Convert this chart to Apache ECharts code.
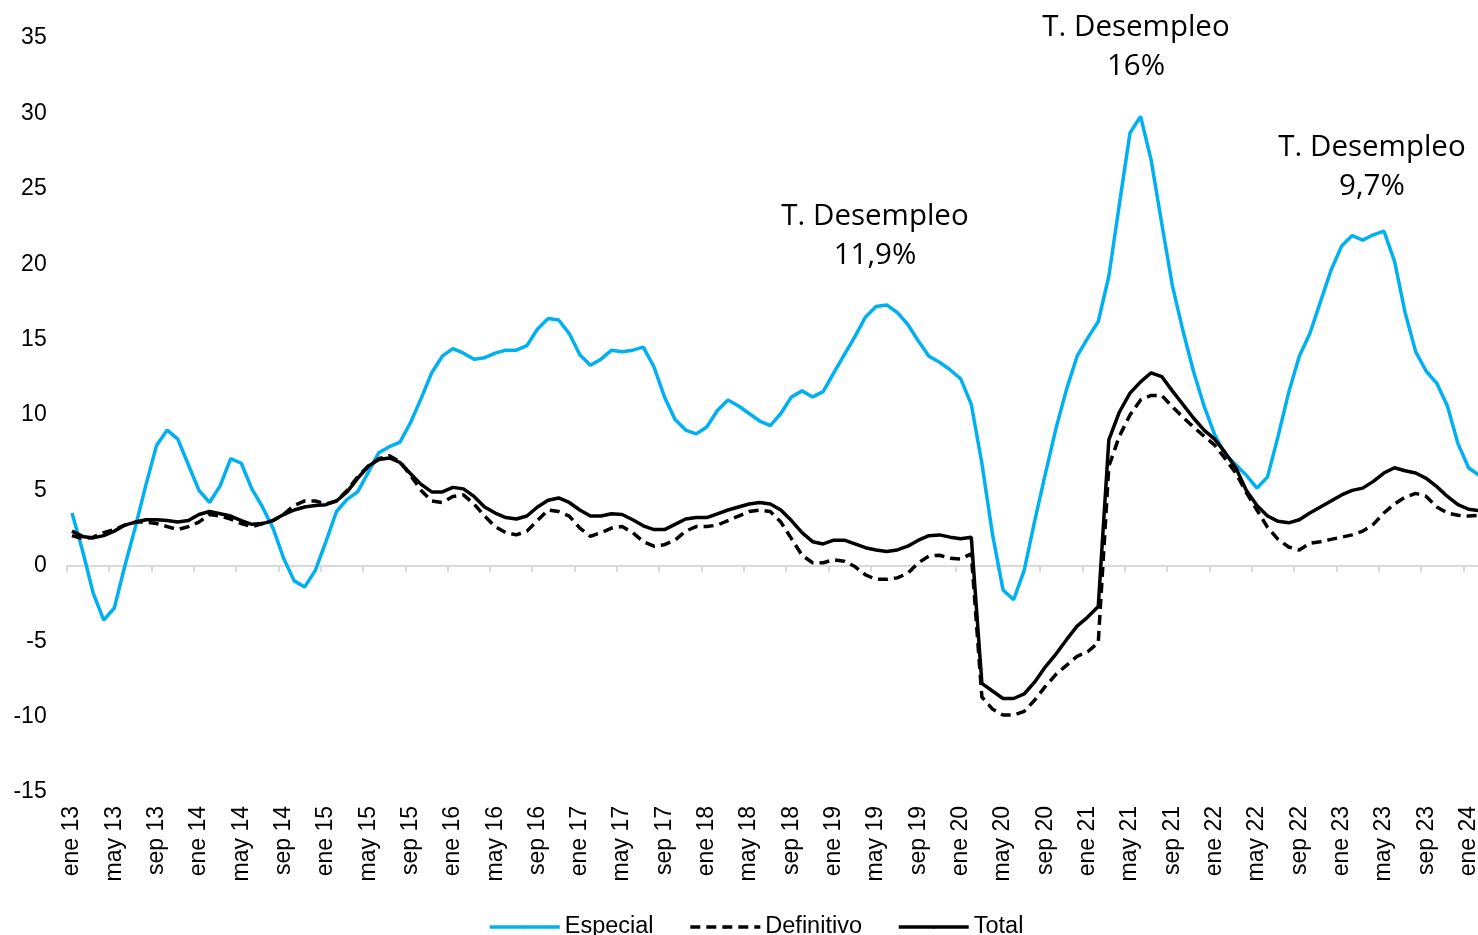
<!DOCTYPE html>
<html>
<head>
<meta charset="utf-8">
<title>Especial / Definitivo / Total</title>
<script type="text/javascript" src="https://cdn.jsdelivr.net/npm/echarts@6/dist/echarts.min.js"></script>
<style>
	html, body { margin: 0; padding: 0; background: #fff; }
	#main { width: 1478px; height: 935px; }
</style>
</head>
<body>
<div id="main"></div>
<script type="text/javascript">
	// meses ene 13 .. feb 24 (feb 24 queda cortado en el borde derecho)
	var mesNombres = ['ene', 'feb', 'mar', 'abr', 'may', 'jun', 'jul', 'ago', 'sep', 'oct', 'nov', 'dic'];
	var anios = ['13', '14', '15', '16', '17', '18', '19', '20', '21', '22', '23', '24'];

	var especial = [
		3.5, 1.0, -1.8, -3.6, -2.8, 0.0, 2.6, 5.4, 8.0, 9.0, 8.4, 6.7,
		5.0, 4.2, 5.3, 7.1, 6.8, 5.1, 3.9, 2.5, 0.5, -1.0, -1.4, -0.3,
		1.6, 3.6, 4.4, 4.9, 6.2, 7.5, 7.9, 8.2, 9.5, 11.1, 12.8, 13.9,
		14.4, 14.1, 13.7, 13.8, 14.1, 14.3, 14.3, 14.6, 15.7, 16.4, 16.3, 15.4,
		14.0, 13.3, 13.7, 14.3, 14.2, 14.3, 14.5, 13.2, 11.2, 9.7, 9.0, 8.75,
		9.2, 10.3, 11.0, 10.6, 10.1, 9.6, 9.3, 10.1, 11.2, 11.6, 11.2, 11.55,
		12.8, 14.0, 15.2, 16.5, 17.2, 17.3, 16.8, 16.0, 14.9, 13.9, 13.5, 13.0,
		12.4, 10.7, 6.8, 2.1, -1.6, -2.25, -0.3, 3.0, 6.1, 9.1, 11.7, 13.9,
		15.1, 16.2, 19.2, 24.0, 28.7, 29.8, 26.9, 22.7, 18.6, 15.6, 12.9, 10.6,
		8.7, 7.4, 6.7, 6.0, 5.15, 5.9, 8.6, 11.5, 13.9, 15.4, 17.5, 19.6,
		21.2, 21.9, 21.6, 21.95, 22.2, 20.2, 16.8, 14.2, 12.9, 12.1, 10.6, 8.1,
		6.5, 6.0
	];

	var definitivo = [
		2.0, 1.8, 1.9, 2.2, 2.4, 2.7, 2.9, 2.9, 2.8, 2.6, 2.4, 2.6,
		2.9, 3.4, 3.3, 3.1, 2.8, 2.6, 2.8, 3.0, 3.4, 4.0, 4.3, 4.3,
		4.1, 4.3, 5.0, 5.9, 6.6, 7.1, 7.3, 6.9, 6.0, 5.0, 4.3, 4.2,
		4.6, 4.7, 4.1, 3.3, 2.6, 2.2, 2.05, 2.3, 3.0, 3.7, 3.6, 3.3,
		2.5, 1.95, 2.2, 2.5, 2.6, 2.2, 1.6, 1.3, 1.4, 1.7, 2.3, 2.6,
		2.6, 2.7, 3.0, 3.3, 3.6, 3.7, 3.6, 2.9, 1.8, 0.7, 0.2, 0.2,
		0.4, 0.3, -0.05, -0.6, -0.9, -0.9, -0.8, -0.5, 0.2, 0.65, 0.7, 0.5,
		0.45, 0.8, -8.7, -9.5, -9.9, -9.9, -9.65, -8.9, -8.0, -7.2, -6.6, -6.0,
		-5.7, -5.1, 6.6, 8.6, 10.0, 11.0, 11.3, 11.3, 10.55, 9.85, 9.2, 8.6,
		8.0, 7.1, 6.15, 4.85, 3.7, 2.55, 1.75, 1.25, 1.05, 1.5, 1.6, 1.75,
		1.9, 2.05, 2.3, 2.75, 3.5, 4.1, 4.55, 4.8, 4.6, 3.9, 3.5, 3.35,
		3.3, 3.35
	];

	var total = [
		2.3, 1.95, 1.85, 2.0, 2.3, 2.7, 2.9, 3.05, 3.05, 3.0, 2.9, 3.0,
		3.4, 3.6, 3.45, 3.3, 3.0, 2.75, 2.8, 3.0, 3.4, 3.7, 3.9, 4.0,
		4.05, 4.3, 4.9, 5.8, 6.6, 7.05, 7.15, 6.85, 6.1, 5.4, 4.9, 4.9,
		5.2, 5.1, 4.6, 3.9, 3.5, 3.2, 3.1, 3.3, 3.9, 4.35, 4.5, 4.2,
		3.7, 3.3, 3.3, 3.45, 3.4, 3.05, 2.65, 2.4, 2.4, 2.75, 3.1, 3.2,
		3.2, 3.45, 3.7, 3.9, 4.1, 4.2, 4.1, 3.7, 3.0, 2.2, 1.6, 1.45,
		1.7, 1.7, 1.45, 1.2, 1.05, 0.95, 1.05, 1.3, 1.7, 2.0, 2.05, 1.9,
		1.8, 1.9, -7.8, -8.3, -8.8, -8.8, -8.5, -7.7, -6.7, -5.85, -4.9, -4.0,
		-3.4, -2.7, 8.35, 10.2, 11.45, 12.2, 12.8, 12.55, 11.6, 10.7, 9.8, 9.0,
		8.4, 7.5, 6.5, 5.0, 4.0, 3.3, 2.95, 2.85, 3.05, 3.5, 3.9, 4.3,
		4.7, 5.0, 5.15, 5.6, 6.15, 6.5, 6.3, 6.15, 5.8, 5.25, 4.6, 4.05,
		3.75, 3.65
	];

	var yTicks = [-15, -10, -5, 0, 5, 10, 15, 20, 25, 30, 35];

	var anotaciones = [
		{ texto: 'T. Desempleo\n11,9%', x: 875, y: 236 },
		{ texto: 'T. Desempleo\n16%', x: 1136, y: 47 },
		{ texto: 'T. Desempleo\n9,7%', x: 1372, y: 167 }
	];

	var meses = [];
	for (var i = 0; i < especial.length; i++) {
		meses.push(mesNombres[i % 12] + ' ' + anios[Math.floor(i / 12)]);
	}

	var fuente = "'Liberation Sans', Arial, sans-serif";
	var myChart = echarts.init(document.getElementById('main'));

	var option = {
		animation: false,
		backgroundColor: '#fff',
		grid: {
			left: 66.7,
			width: meses.length * 10.58,
			top: 38,
			bottom: 143,
			containLabel: false,
			outerBoundsMode: 'none'
		},
		legend: {
			data: ['Especial', 'Definitivo', 'Total'],
			left: 483,
			top: 909,
			itemWidth: 70,
			itemHeight: 4,
			itemGap: 35,
			lineStyle: { width: 3.5 },
			textStyle: { fontFamily: fuente, fontSize: 23.5, color: '#000', lineHeight: 26 }
		},
		xAxis: [
			{
				type: 'category',
				data: meses,
				position: 'bottom',
				boundaryGap: true,
				axisLine: { show: false, onZero: false },
				axisTick: { show: false },
				splitLine: { show: false },
				axisLabel: {
					interval: 3,
					rotate: 90,
					margin: 14,
					fontFamily: fuente,
					fontSize: 23,
					color: '#000'
				}
			},
			{
				type: 'category',
				data: meses,
				position: 'bottom',
				boundaryGap: true,
				axisLine: { show: true, onZero: true, lineStyle: { color: '#d9d9d9', width: 2 } },
				axisTick: { show: true, interval: 3, length: 6, lineStyle: { color: '#d9d9d9', width: 2 } },
				axisLabel: { show: false },
				splitLine: { show: false }
			}
		],
		yAxis: {
			type: 'value',
			min: yTicks[0],
			max: yTicks[yTicks.length - 1],
			interval: 5,
			axisLine: { show: false },
			axisTick: { show: false },
			splitLine: { show: false },
			axisLabel: { margin: 20, fontFamily: fuente, fontSize: 23, color: '#000' }
		},
		series: [
			{
				name: 'Especial',
				type: 'line',
				xAxisIndex: 0,
				data: especial,
				symbol: 'none',
				itemStyle: { color: '#00B0F0' },
				lineStyle: { color: '#00B0F0', width: 3.5 }
			},
			{
				name: 'Definitivo',
				type: 'line',
				xAxisIndex: 0,
				data: definitivo,
				symbol: 'none',
				itemStyle: { color: '#000' },
				lineStyle: { color: '#000', width: 3.5, type: [10, 6] }
			},
			{
				name: 'Total',
				type: 'line',
				xAxisIndex: 0,
				data: total,
				symbol: 'none',
				itemStyle: { color: '#000' },
				lineStyle: { color: '#000', width: 3.5 }
			}
		],
		graphic: anotaciones.map(function (a) {
			return {
				type: 'text',
				x: a.x,
				y: a.y,
				z: 100,
				style: {
					text: a.texto,
					fill: '#000',
					font: "29.5px 'Open Sans', sans-serif",
					align: 'center',
					verticalAlign: 'middle',
					lineHeight: 39
				}
			};
		})
	};

	myChart.setOption(option);
</script>
</body>
</html>
